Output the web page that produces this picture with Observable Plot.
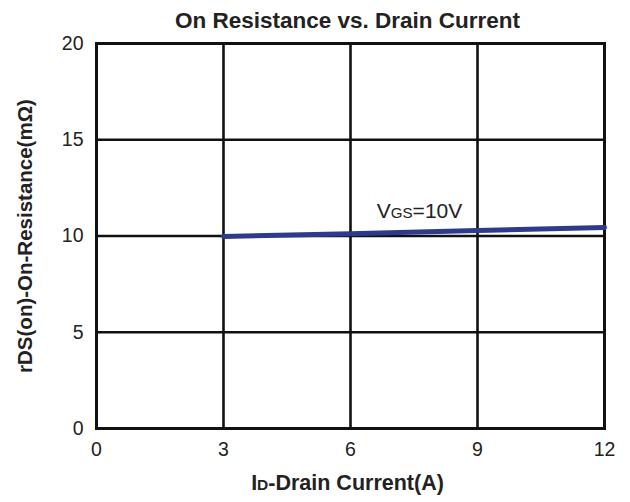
<!DOCTYPE html>
<html><head><meta charset="utf-8">
<script src="https://cdn.jsdelivr.net/npm/d3@7"></script>
<script src="https://cdn.jsdelivr.net/npm/@observablehq/plot@0.6"></script>
<style>
body{margin:0;background:#fff;}
svg{font-family:"Liberation Sans",Arial,sans-serif;}
</style>
</head><body>
<div id="chart"></div>
<script>
const current = [3, 6, 9, 12];
const resistance = [9.98, 10.12, 10.28, 10.44];
const xTicks = [0, 3, 6, 9, 12];
const yTicks = [0, 5, 10, 15, 20];
const title = "On Resistance vs. Drain Current";
const xLabel = "ID-Drain Current(A)";
const yLabel = "rDS(on)-On-Resistance(mΩ)";
const seriesLabel = {x: 7.63, y: 11.27, text: "VGS=10V"};

const data = current.map((c, i) => ({c, r: resistance[i]}));

const chart = Plot.plot({
  width: 630, height: 502,
  marginLeft: 96, marginRight: 26, marginTop: 43, marginBottom: 74,
  style: {fontFamily: '"Liberation Sans", Arial, sans-serif', fontSize: "19px", color: "#222", background: "#fff", overflow: "visible"},
  x: {domain: [0, 12], ticks: xTicks, label: null},
  y: {domain: [0, 20], ticks: yTicks, label: null},
  marks: [
    Plot.gridX(xTicks, {stroke: "#111", strokeOpacity: 1, strokeWidth: 2.6}),
    Plot.gridY(yTicks, {stroke: "#111", strokeOpacity: 1, strokeWidth: 2.6}),
    Plot.frame({stroke: "#111", strokeWidth: 3}),
    Plot.axisX(xTicks, {tickSize: 0, tickPadding: 14, fontSize: 19.5, fill: "#222"}),
    Plot.axisY(yTicks, {tickSize: 0, tickPadding: 13, fontSize: 19.5, fill: "#222"}),
    Plot.line(data, {x: "c", y: "r", stroke: "#2e3b8c", strokeWidth: 5}),
    Plot.text([seriesLabel], {x: "x", y: "y", text: "text", fontSize: 21, fill: "#222", className: "vgs"}),
    Plot.text([title], {frameAnchor: "top", dy: -31, dx: -3, text: d => d, fontSize: 22.5, fontWeight: "bold", fill: "#222"}),
    Plot.text([xLabel], {frameAnchor: "bottom", dy: 61, dx: -3, text: d => d, fontSize: 21.5, fontWeight: "bold", fill: "#222", className: "xlab"}),
    Plot.text([yLabel], {frameAnchor: "left", dx: -71, rotate: -90, textAnchor: "middle", text: d => d, fontSize: 20.5, fontWeight: "bold", fill: "#222"})
  ]
});
document.getElementById("chart").appendChild(chart);

// small-cap subscripts
function sub(sel, parts) {
  const t = d3.select(chart).select(sel).select("text");
  t.text(null);
  parts.forEach(([s, small]) => t.append("tspan").attr("font-size", small ? "0.72em" : null).text(s));
}
sub(".vgs", [["V", false], ["GS", true], ["=10V", false]]);
sub(".xlab", [["I", false], ["D", true], ["-Drain Current(A)", false]]);
</script>
</body></html>
